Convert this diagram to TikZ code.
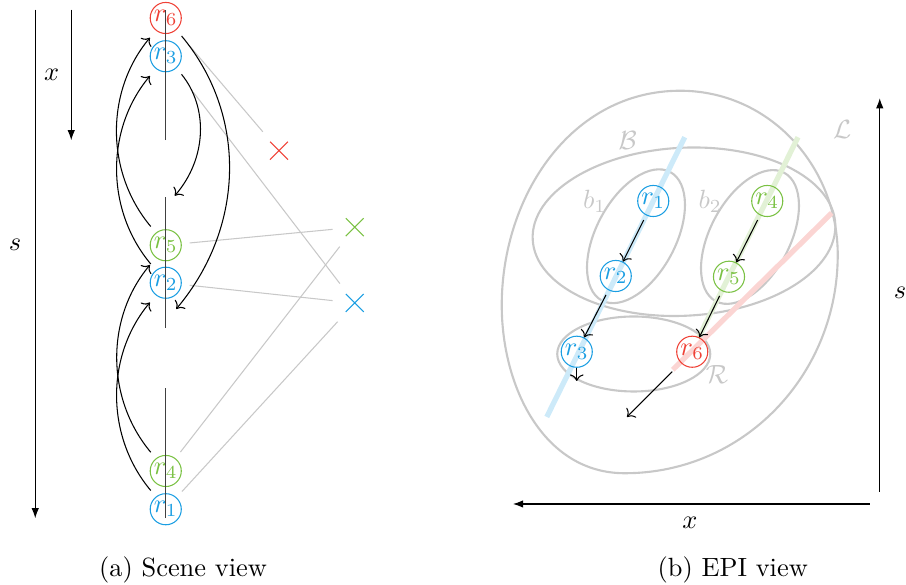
\documentclass[tikz,border=0pt]{standalone}
\usepackage{xcolor}
\usepackage{amsmath, amssymb}
\usepackage{tikz}
\usetikzlibrary{arrows.meta, shapes.misc}
\definecolor{myblue}{RGB}{27,158,226}
\definecolor{mygreen}{RGB}{122,193,67}
\definecolor{myred}{RGB}{239,65,54}
\definecolor{mygray}{RGB}{200,200,200}

\tikzset{
  ray/.style={circle, draw=#1, text=#1, inner sep=0pt, minimum size=11.8pt},
  hit/.style={cross out, draw=#1, inner sep=0pt, minimum size=6.4pt},
  axis/.style={-{Latex[length=3.8pt,width=2.8pt]}},
  scene/.style={black!75, line width=0.5pt},
  link/.style={->, bend left=40, shorten <=3pt, shorten >=3.5pt},
  ghost/.style={mygray, shorten <=3pt, shorten >=5pt},
  epi/.style={line width=2pt, draw=#1!22},
  set/.style={mygray, line width=0.8pt},
}

\begin{document}
\begin{tikzpicture}
\useasboundingbox (0,0) rectangle (12.08,7.8);

% (a) scene view
\draw[axis] (0.47,7.67) -- (0.47,0.89);
\node at (0.2,4.53) {$s$};
\draw[axis] (0.95,7.67) -- (0.95,5.93);
\node at (0.69,6.8) {$x$};

\node[ray=myred] (r6) at (2.21,7.56) {$r_6$};
\node[ray=myblue] (r3) at (2.21,7.05) {$r_3$};
\node[ray=mygreen] (r5) at (2.21,4.53) {$r_5$};
\node[ray=myblue] (r2) at (2.21,4.03) {$r_2$};
\node[ray=mygreen] (r4) at (2.21,1.52) {$r_4$};
\node[ray=myblue] (r1) at (2.21,1.01) {$r_1$};
\foreach \y in {0.89,3.43,5.93}
  \draw[scene] (2.21,\y) -- ++(0,1.74);

\node[hit=myred] (p6) at (3.72,5.79) {};
\node[hit=mygreen] (p45) at (4.73,4.77) {};
\node[hit=myblue] (p123) at (4.73,3.76) {};
\draw[ghost, shorten <=7.6pt] (r6) -- (p6);
\draw[ghost, shorten <=11pt] (r3) -- (p123);
\draw[ghost] (r5) -- (p45);
\draw[ghost] (r4) -- (p45);
\draw[ghost] (r2) -- (p123);
\draw[ghost] (r1) -- (p123);

\draw[link] (r1.128) to (r2.232);
\draw[link] (r4.128) to (r5.232);
\draw[link] (r2.128) to (r3.232);
\draw[link] (r5.128) to (r6.232);
\coordinate (e3) at (2.33,5.19);
\coordinate (e6) at (2.35,3.68);
\draw[link, shorten >=0pt] (r3.312) to (e3);
\draw[link, shorten >=0pt] (r6.312) to (e6);

\node at (2.44,0.2) {(a) Scene view};

% (b) EPI view
\draw[axis] (11.73,1.24) -- (11.73,6.49);
\node at (12.0,3.89) {$s$};
\draw[axis] (11.6,1.08) -- (6.84,1.08);
\node at (9.2,0.83) {$x$};

\draw[set] (9.07,6.59) to[out=0,in=90] (11.17,4.40) to[out=-90,in=0] (8.33,1.49)
  to[out=180,in=-90] (6.69,3.73) to[out=90,in=180] (9.07,6.59);
\draw[set] (9.12,4.71) ellipse[x radius=2.02, y radius=1.12, rotate=3];
\draw[set] (8.48,4.65) ellipse[x radius=0.97, y radius=0.53, rotate=62];
\draw[set] (10.0,4.64) ellipse[x radius=0.97, y radius=0.53, rotate=62];
\draw[set] (8.45,3.08) ellipse[x radius=1.02, y radius=0.5];
\node[mygray] at (11.23,6.07) {$\mathcal{L}$};
\node[mygray] at (8.37,5.93) {$\mathcal{B}$};
\node[mygray] at (7.93,5.11) {$b_1$};
\node[mygray] at (9.47,5.11) {$b_2$};
\node[mygray] at (9.56,2.80) {$\mathcal{R}$};

\draw[epi=myblue] (9.13,5.97) -- (7.29,2.24);
\draw[epi=mygreen] (10.64,5.97) -- (9.31,3.29);
\draw[epi=myred] (11.09,4.96) -- (8.97,2.87);

\node[ray=myblue] (q1) at (8.71,5.12) {$r_1$};
\node[ray=myblue] (q2) at (8.21,4.12) {$r_2$};
\node[ray=myblue] (q3) at (7.69,3.11) {$r_3$};
\node[ray=mygreen] (q4) at (10.23,5.12) {$r_4$};
\node[ray=mygreen] (q5) at (9.72,4.11) {$r_5$};
\node[ray=myred] (q6) at (9.23,3.11) {$r_6$};

\draw[->, shorten <=2pt] (q1) -- (q2);
\draw[->, shorten <=2pt] (q2) -- (q3);
\draw[->, shorten <=2pt] (q4) -- (q5);
\draw[->, shorten <=2pt] (q5) -- (q6);
\coordinate (f3) at (7.69,2.72);
\coordinate (f6) at (8.36,2.24);
\draw[->] (q3) -- (f3);
\draw[->, shorten <=4.6pt] (q6) -- (f6);

\node at (9.77,0.2) {(b) EPI view};
\end{tikzpicture}
\end{document}
